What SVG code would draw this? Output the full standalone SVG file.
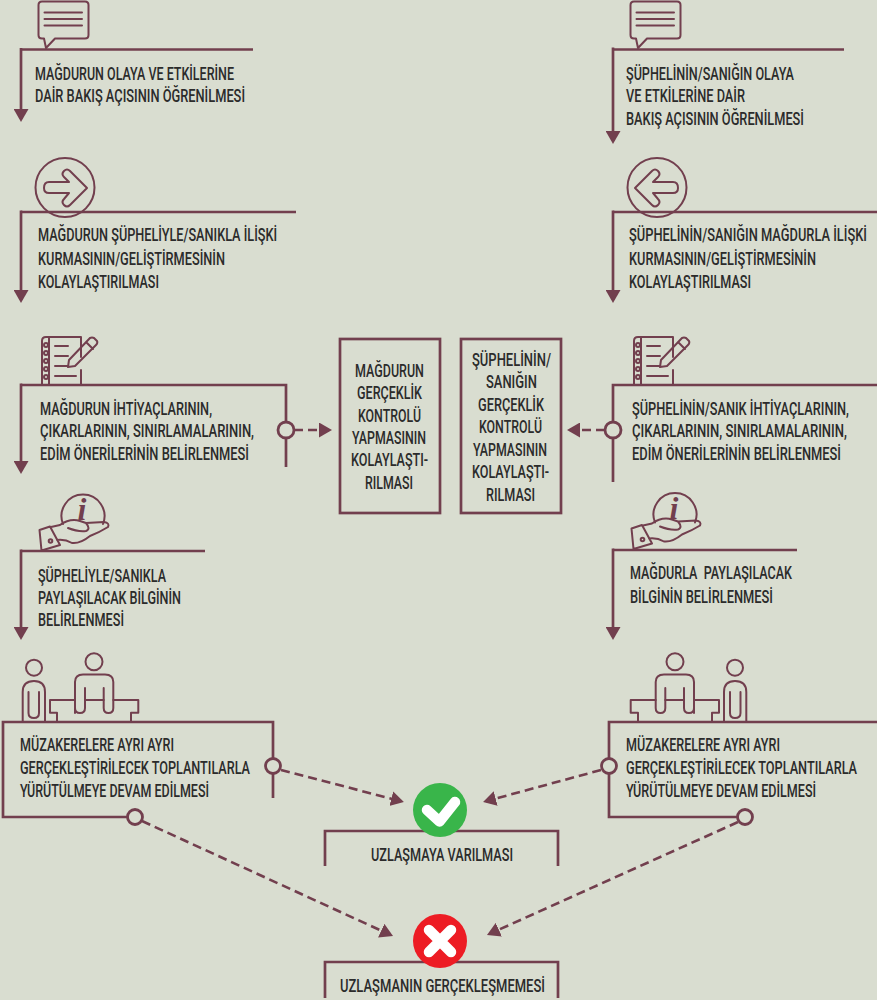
<svg xmlns="http://www.w3.org/2000/svg" width="877" height="1000" viewBox="0 0 877 1000">
<style>
.f{fill:none;stroke:#723f4e;stroke-width:2.7}
.i{fill:none;stroke:#723f4e;stroke-width:2;stroke-linecap:round;stroke-linejoin:round}
.d{fill:none;stroke:#723f4e;stroke-width:2.6;stroke-dasharray:9 5;marker-end:url(#tri)}
.a{fill:none;stroke:#723f4e;stroke-width:2.7;marker-end:url(#tri)}
.h{fill:#d9ddd0;stroke:#723f4e;stroke-width:2.8}
.t{font-family:Roboto,"Liberation Sans",sans-serif;font-weight:500;font-size:17.5px;fill:#2b2b2b}
</style>
<defs>
<marker id="tri" markerUnits="userSpaceOnUse" viewBox="0 0 13 15" refX="10" refY="7.500" markerWidth="13" markerHeight="15" orient="auto"><path d="M0 0L13 7.500L0 15Z" fill="#723f4e"/></marker>
<g id="bubble" class="i">
<path d="M42 1.500H85Q88.500 1.500 88.500 5V35Q88.500 38.500 85 38.500H55L46 48L44 38.500H42Q38.500 38.500 38.500 35V5Q38.500 1.500 42 1.500Z"/>
<path d="M44.500 12.500H82M44.500 19H82M44.500 25.500H82"/>
</g>
<g id="arrowdisc" class="i">
<circle cx="65" cy="187.500" r="29.500"/>
<path d="M87 188L70 171Q67 168 64 171Q61 174 64 177L69 182H49Q44 182 44 188Q44 193 49 193H69L64 199Q61 202 64 205Q67 208 70 205Z"/>
</g>
<g id="notebook" class="i">
<path d="M42 385V341Q42 337 46 337H81V357M81 370V385M49 337V385"/>
<circle cx="46" cy="345" r="2"/><circle cx="46" cy="353" r="2"/><circle cx="46" cy="361" r="2"/><circle cx="46" cy="369" r="2"/><circle cx="46" cy="377" r="2"/>
<path d="M55 346H68M55 356H68M55 366H68M55 376H76"/>
<path d="M69 360L90 338Q92 337 94 338L97 341Q98 343 96 345L75 366L68 367ZM86 342L93 349"/>
</g>
<g id="hand">
<path class="i" d="M63 524A21.500 21.500 0 1 1 103 524"/>
<path class="i" d="M39.500 530L50 526.500L60 545L41.500 550.500ZM51 527L60 525Q70 518 80 521L86 523L104 522Q110 523 108 527Q100 532 90 536Q80 544 72 543Q65 539 57 540M68 528Q78 532 86 531Q91 529 86 523"/>
<circle class="i" cx="50.500" cy="541" r="1.800"/>
<text x="82" y="520" text-anchor="middle" style="font-family:'Liberation Serif',serif;font-style:italic;font-weight:700;font-size:32px;fill:#723f4e">i</text>
</g>
<g id="people" class="i">
<circle cx="34" cy="667.700" r="8"/>
<path d="M22.700 721V692Q22.700 681 34 681Q45 681 45 692V721"/>
<path d="M28.500 692V713Q28.500 718 34 718Q39 718 39 713V692"/>
<circle cx="94" cy="661.700" r="8.500"/>
<path d="M75 713V682Q75 674.500 83 674.500H105Q113.300 674.500 113.300 682V708Q113.300 713 108.500 713Q103.700 713 103.700 708V688M85 688V708Q85 713 80 713Q75 713 75 708"/>
<path d="M75 700H50V712.700H57V722M113.300 700H138.300V712.700H131V722M85 700H103.700"/>
</g>
</defs>
<rect width="877" height="1000" fill="#d9ddd0"/>
<g id="connectors">
<path class="a" d="M21 48V119"/>
<path class="a" d="M21 210.500V300"/>
<path class="a" d="M21 383.500V471"/>
<path class="a" d="M21 549.500V637"/>
<path class="a" d="M613 47.500V141"/>
<path class="a" d="M613 210.500V300"/>
<path class="a" d="M613 548.500V637"/>
<path class="d" d="M294 430H329"/>
<path class="d" d="M605 430H570"/>
<path class="d" d="M281 770L401 801.200"/>
<path class="d" d="M142 821L390.300 934.800"/>
<path class="d" d="M601 770L486 801.200"/>
<path class="d" d="M738 822L489.700 933.800"/>
</g>
<g id="node-l1">
<use href="#bubble"/>
<path class="f" d="M253 49.500H21"/>
<text class="t" transform="translate(35 80) scale(.74 1)" textLength="268.900" lengthAdjust="spacingAndGlyphs">MAĞDURUN OLAYA VE ETKİLERİNE</text>
<text class="t" transform="translate(35 102) scale(.74 1)" textLength="283.800" lengthAdjust="spacingAndGlyphs">DAİR BAKIŞ AÇISININ ÖĞRENİLMESİ</text>
</g>
<g id="node-l2">
<use href="#arrowdisc"/>
<path class="f" d="M296 212H21"/>
<text class="t" transform="translate(38 241) scale(.74 1)" textLength="323" lengthAdjust="spacingAndGlyphs">MAĞDURUN ŞÜPHELİYLE/SANIKLA İLİŞKİ</text>
<text class="t" transform="translate(38 265) scale(.74 1)" textLength="252.700" lengthAdjust="spacingAndGlyphs">KURMASININ/GELİŞTİRMESİNİN</text>
<text class="t" transform="translate(38 288) scale(.74 1)" textLength="163.500" lengthAdjust="spacingAndGlyphs">KOLAYLAŞTIRILMASI</text>
</g>
<g id="node-l3">
<use href="#notebook"/>
<path class="f" d="M21 385H286V467"/>
<circle class="h" cx="286" cy="430" r="8"/>
<text class="t" transform="translate(40 415) scale(.74 1)" textLength="232.400" lengthAdjust="spacingAndGlyphs">MAĞDURUN İHTİYAÇLARININ,</text>
<text class="t" transform="translate(40 437) scale(.74 1)" textLength="289.200" lengthAdjust="spacingAndGlyphs">ÇIKARLARININ, SINIRLAMALARININ,</text>
<text class="t" transform="translate(40 460) scale(.74 1)" textLength="282.400" lengthAdjust="spacingAndGlyphs">EDİM ÖNERİLERİNİN BELİRLENMESİ</text>
</g>
<g id="node-l4">
<use href="#hand"/>
<path class="f" d="M205 551H21"/>
<text class="t" transform="translate(38 582) scale(.74 1)" textLength="173" lengthAdjust="spacingAndGlyphs">ŞÜPHELİYLE/SANIKLA</text>
<text class="t" transform="translate(38 604) scale(.74 1)" textLength="193.200" lengthAdjust="spacingAndGlyphs">PAYLAŞILACAK BİLGİNİN</text>
<text class="t" transform="translate(38 626) scale(.74 1)" textLength="116.200" lengthAdjust="spacingAndGlyphs">BELİRLENMESİ</text>
</g>
<g id="node-l5">
<use href="#people"/>
<path class="f" d="M128 817H3V722H273V798"/>
<circle class="h" cx="273" cy="766" r="7.500"/>
<circle class="h" cx="135" cy="817" r="7.500"/>
<text class="t" transform="translate(20 751) scale(.74 1)" textLength="208.100" lengthAdjust="spacingAndGlyphs">MÜZAKERELERE AYRI AYRI</text>
<text class="t" transform="translate(20 774) scale(.74 1)" textLength="310.800" lengthAdjust="spacingAndGlyphs">GERÇEKLEŞTİRİLECEK TOPLANTILARLA</text>
<text class="t" transform="translate(20 797) scale(.74 1)" textLength="255.400" lengthAdjust="spacingAndGlyphs">YÜRÜTÜLMEYE DEVAM EDİLMESİ</text>
</g>
<g id="node-r1">
<use href="#bubble" transform="translate(592 0)"/>
<path class="f" d="M844 49.500H613"/>
<text class="t" transform="translate(626 80) scale(.74 1)" textLength="227" lengthAdjust="spacingAndGlyphs">ŞÜPHELİNİN/SANIĞIN OLAYA</text>
<text class="t" transform="translate(626 102) scale(.74 1)" textLength="160.800" lengthAdjust="spacingAndGlyphs">VE ETKİLERİNE DAİR</text>
<text class="t" transform="translate(626 125) scale(.74 1)" textLength="240.500" lengthAdjust="spacingAndGlyphs">BAKIŞ AÇISININ ÖĞRENİLMESİ</text>
</g>
<g id="node-r2">
<use href="#arrowdisc" transform="matrix(-1 0 0 1 722 0)"/>
<path class="f" d="M877 212H613"/>
<text class="t" transform="translate(629 241) scale(.74 1)" textLength="321.600" lengthAdjust="spacingAndGlyphs">ŞÜPHELİNİN/SANIĞIN MAĞDURLA İLİŞKİ</text>
<text class="t" transform="translate(629 265) scale(.74 1)" textLength="252.700" lengthAdjust="spacingAndGlyphs">KURMASININ/GELİŞTİRMESİNİN</text>
<text class="t" transform="translate(629 288) scale(.74 1)" textLength="164.900" lengthAdjust="spacingAndGlyphs">KOLAYLAŞTIRILMASI</text>
</g>
<g id="node-r3">
<use href="#notebook" transform="translate(592 0)"/>
<path class="f" d="M877 385H613V482"/>
<circle class="h" cx="613" cy="430" r="8"/>
<text class="t" transform="translate(632 415) scale(.74 1)" textLength="293.200" lengthAdjust="spacingAndGlyphs">ŞÜPHELİNİN/SANIK İHTİYAÇLARININ,</text>
<text class="t" transform="translate(632 437) scale(.74 1)" textLength="290.500" lengthAdjust="spacingAndGlyphs">ÇIKARLARININ, SINIRLAMALARININ,</text>
<text class="t" transform="translate(632 460) scale(.74 1)" textLength="282.400" lengthAdjust="spacingAndGlyphs">EDİM ÖNERİLERİNİN BELİRLENMESİ</text>
</g>
<g id="node-r4">
<use href="#hand" transform="translate(592 -1.500)"/>
<path class="f" d="M797 550H613"/>
<text class="t" transform="translate(630 579) scale(.74 1)" textLength="218.900" lengthAdjust="spacingAndGlyphs" xml:space="preserve">MAĞDURLA  PAYLAŞILACAK</text>
<text class="t" transform="translate(630 603) scale(.74 1)" textLength="193.200" lengthAdjust="spacingAndGlyphs">BİLGİNİN BELİRLENMESİ</text>
</g>
<g id="node-r5">
<use href="#people" transform="matrix(-1 0 0 1 769 0)"/>
<path class="f" d="M877 722H609V817H738"/>
<circle class="h" cx="609" cy="766" r="7.500"/>
<circle class="h" cx="745" cy="817" r="7.500"/>
<text class="t" transform="translate(626 751) scale(.74 1)" textLength="208.100" lengthAdjust="spacingAndGlyphs">MÜZAKERELERE AYRI AYRI</text>
<text class="t" transform="translate(626 774) scale(.74 1)" textLength="312.200" lengthAdjust="spacingAndGlyphs">GERÇEKLEŞTİRİLECEK TOPLANTILARLA</text>
<text class="t" transform="translate(626 797) scale(.74 1)" textLength="256.800" lengthAdjust="spacingAndGlyphs">YÜRÜTÜLMEYE DEVAM EDİLMESİ</text>
</g>
<g id="node-mid-left">
<rect class="f" x="340" y="339" width="100" height="174"/>
<text class="t" transform="translate(355 377) scale(.74 1)" textLength="93.200" lengthAdjust="spacingAndGlyphs">MAĞDURUN</text>
<text class="t" transform="translate(357 399) scale(.74 1)" textLength="87.800" lengthAdjust="spacingAndGlyphs">GERÇEKLİK</text>
<text class="t" transform="translate(358 422) scale(.74 1)" textLength="85.100" lengthAdjust="spacingAndGlyphs">KONTROLÜ</text>
<text class="t" transform="translate(352 444) scale(.74 1)" textLength="100" lengthAdjust="spacingAndGlyphs">YAPMASININ</text>
<text class="t" transform="translate(351 466) scale(.74 1)" textLength="104.100" lengthAdjust="spacingAndGlyphs">KOLAYLAŞTI-</text>
<text class="t" transform="translate(365 489) scale(.74 1)" textLength="64.900" lengthAdjust="spacingAndGlyphs">RILMASI</text>
</g>
<g id="node-mid-right">
<rect class="f" x="461" y="339" width="100" height="174"/>
<text class="t" transform="translate(472 366) scale(.74 1)" textLength="106.800" lengthAdjust="spacingAndGlyphs">ŞÜPHELİNİN/</text>
<text class="t" transform="translate(486 388) scale(.74 1)" textLength="68.900" lengthAdjust="spacingAndGlyphs">SANIĞIN</text>
<text class="t" transform="translate(478 411) scale(.74 1)" textLength="89.200" lengthAdjust="spacingAndGlyphs">GERÇEKLİK</text>
<text class="t" transform="translate(479 433) scale(.74 1)" textLength="85.100" lengthAdjust="spacingAndGlyphs">KONTROLÜ</text>
<text class="t" transform="translate(473 456) scale(.74 1)" textLength="100" lengthAdjust="spacingAndGlyphs">YAPMASININ</text>
<text class="t" transform="translate(472 478) scale(.74 1)" textLength="104.100" lengthAdjust="spacingAndGlyphs">KOLAYLAŞTI-</text>
<text class="t" transform="translate(486 501) scale(.74 1)" textLength="66.200" lengthAdjust="spacingAndGlyphs">RILMASI</text>
</g>
<g id="node-agree">
<path class="f" d="M325 866V831H558V866"/>
<circle cx="440" cy="810" r="27" fill="#39b54a"/>
<path d="M427 810L439.500 821.500L455 802" fill="none" stroke="#fff" stroke-width="10.500" stroke-linecap="round" stroke-linejoin="round"/>
<text class="t" transform="translate(371 861) scale(.74 1)" textLength="191.900" lengthAdjust="spacingAndGlyphs">UZLAŞMAYA VARILMASI</text>
</g>
<g id="node-fail">
<path class="f" d="M325 998V962H558V998"/>
<circle cx="440" cy="941" r="27" fill="#ed1c24"/>
<path d="M429 930L451 952M451 930L429 952" fill="none" stroke="#fff" stroke-width="10.500" stroke-linecap="round"/>
<text class="t" transform="translate(340 992) scale(.74 1)" textLength="277" lengthAdjust="spacingAndGlyphs">UZLAŞMANIN GERÇEKLEŞMEMESİ</text>
</g>
</svg>
